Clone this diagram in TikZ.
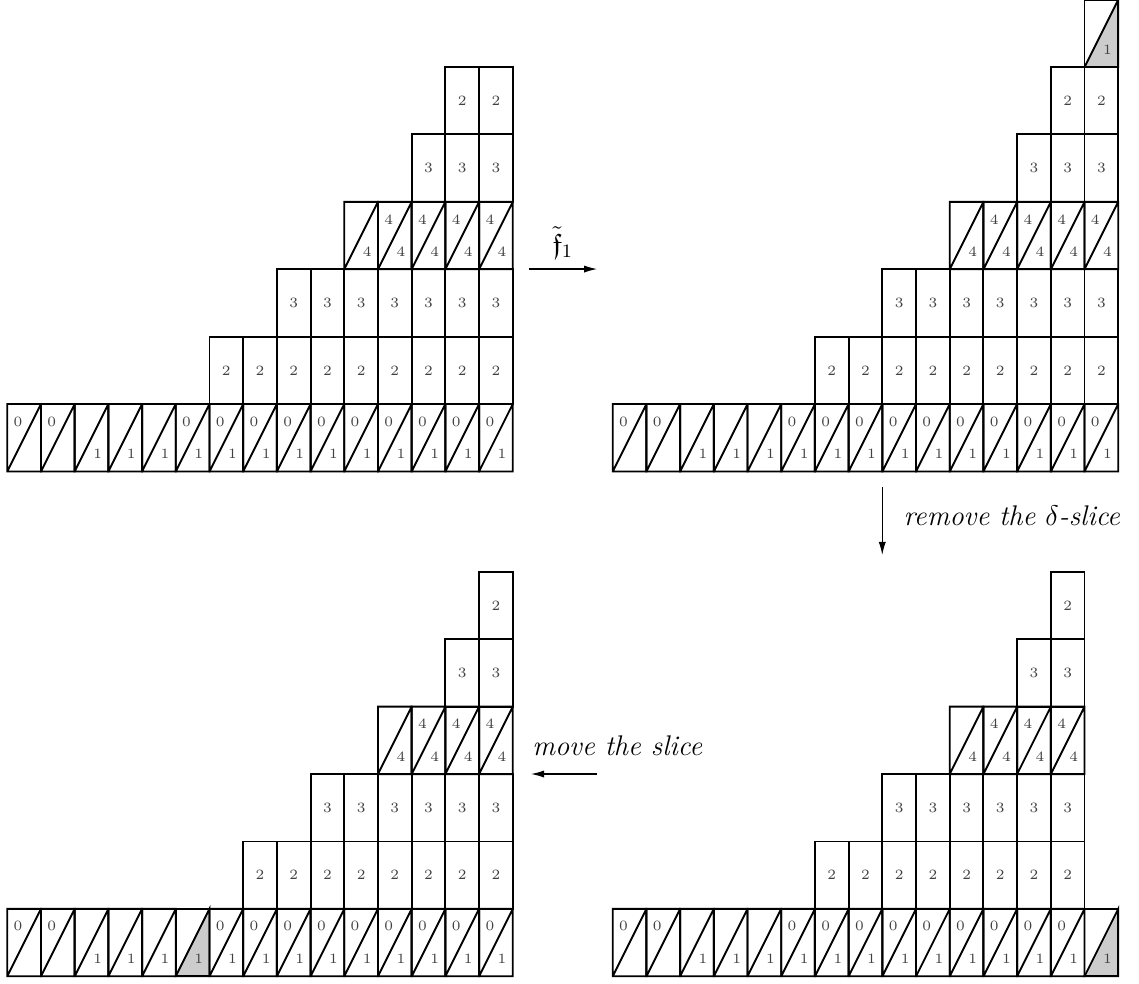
\documentclass[tikz,border=0pt]{standalone}
\usepackage{amsmath, amssymb}
\usepackage{tikz}
\usetikzlibrary{arrows.meta,calc}
\definecolor{slicegray}{gray}{0.8}

% cells are 0.5 wide and 1 high: #1 = column, #2 = row
\newcommand{\boxcell}[3]{%
  \draw[cellline] ({#1/2},#2) rectangle ++(0.5,1);
  \node[cellnum] (\pfx-#1-#2) at ({#1/2+0.25},{#2+0.5}) {#3};}
\newcommand{\diagcell}[4]{%
  \draw[cellline] ({#1/2},#2) rectangle ++(0.5,1) ({#1/2},#2) -- ++(0.5,1);
  \node[cellnum] (\pfx-#1-#2-up) at ({#1/2+0.16},{#2+0.74}) {#3};
  \node[cellnum] (\pfx-#1-#2-lo) at ({#1/2+0.34},{#2+0.26}) {#4};}
\newcommand{\slicecell}[2]{%
  \filldraw[cellline,fill=slicegray] ({#1/2},#2) -- ++(0.5,0) -- ++(0,1) -- cycle;
  \draw[cellline] ({#1/2},#2) rectangle ++(0.5,1);
  \node[cellnum] (\pfx-#1-#2-lo) at ({#1/2+0.34},{#2+0.26}) {1};}
% rows 1 to 5: #1 = first column of row 1, #2 = last column
\newcommand{\staircase}[2]{%
  \pgfmathtruncatemacro{\stb}{#1+2}%
  \pgfmathtruncatemacro{\stc}{#1+4}%
  \pgfmathtruncatemacro{\std}{#1+5}%
  \pgfmathtruncatemacro{\ste}{#1+6}%
  \pgfmathtruncatemacro{\stf}{#1+7}%
  \foreach \c in {#1,...,#2} {\boxcell{\c}{1}{2}}
  \foreach \c in {\stb,...,#2} {\boxcell{\c}{2}{3}}
  \diagcell{\stc}{3}{}{4}
  \foreach \c in {\std,...,#2} {\diagcell{\c}{3}{4}{4}}
  \foreach \c in {\ste,...,#2} {\boxcell{\c}{4}{3}}
  \foreach \c in {\stf,...,#2} {\boxcell{\c}{5}{2}}}

\begin{document}
\begin{tikzpicture}[
    cellline/.style={thick},
    cellnum/.style={font=\fontsize{6}{7}\selectfont, text=black!75, inner sep=0pt},
    maparrow/.style={-{Latex[length=5.5pt,width=3pt]}, line width=0.5pt},
    maplabel/.style={font=\large, inner sep=0pt}]
  \useasboundingbox (0,0) rectangle (16.899,14.585);

  % top left
  \def\pfx{tl}
  \begin{scope}[shift={(0.108,7.59)}]
    \foreach \c in {0,1} {\diagcell{\c}{0}{0}{}}
    \foreach \c in {2,3,4} {\diagcell{\c}{0}{}{1}}
    \foreach \c in {5,...,14} {\diagcell{\c}{0}{0}{1}}
    \staircase{6}{14}
  \end{scope}

  % top right
  \def\pfx{tr}
  \begin{scope}[shift={(9.091,7.59)}]
    \foreach \c in {0,1} {\diagcell{\c}{0}{0}{}}
    \foreach \c in {2,3,4} {\diagcell{\c}{0}{}{1}}
    \foreach \c in {5,...,14} {\diagcell{\c}{0}{0}{1}}
    \staircase{6}{14}
    \slicecell{14}{6}
  \end{scope}

  % bottom right
  \def\pfx{br}
  \begin{scope}[shift={(9.091,0.1)}]
    \foreach \c in {0,1} {\diagcell{\c}{0}{0}{}}
    \foreach \c in {2,3,4} {\diagcell{\c}{0}{}{1}}
    \foreach \c in {5,...,13} {\diagcell{\c}{0}{0}{1}}
    \slicecell{14}{0}
    \staircase{6}{13}
  \end{scope}

  % bottom left
  \def\pfx{bl}
  \begin{scope}[shift={(0.108,0.1)}]
    \foreach \c in {0,1} {\diagcell{\c}{0}{0}{}}
    \foreach \c in {2,3,4} {\diagcell{\c}{0}{}{1}}
    \slicecell{5}{0}
    \foreach \c in {6,...,14} {\diagcell{\c}{0}{0}{1}}
    \staircase{7}{14}
  \end{scope}

  % arrows
  \coordinate (f-start) at (7.85,10.593);
  \coordinate (f-end) at (8.86,10.593);
  \draw[maparrow] (f-start) -- (f-end);
  \node[maplabel, anchor=south] (f-lbl) at (8.35,10.74) {$\tilde{\mathfrak{f}}_1$};

  \coordinate (rm-start) at (13.09,7.359);
  \coordinate (rm-end) at (13.09,6.350);
  \draw[maparrow] (rm-start) -- (rm-end);
  \node[maplabel, anchor=base west] (rm-lbl) at (13.40,6.795) {\textit{remove the $\delta$-slice}};

  \coordinate (mv-start) at (8.858,3.101);
  \coordinate (mv-end) at (7.878,3.101);
  \draw[maparrow] (mv-start) -- (mv-end);
  \node[maplabel, anchor=base west] (mv-lbl) at (7.89,3.383) {\textit{move the slice}};
\end{tikzpicture}
\end{document}
